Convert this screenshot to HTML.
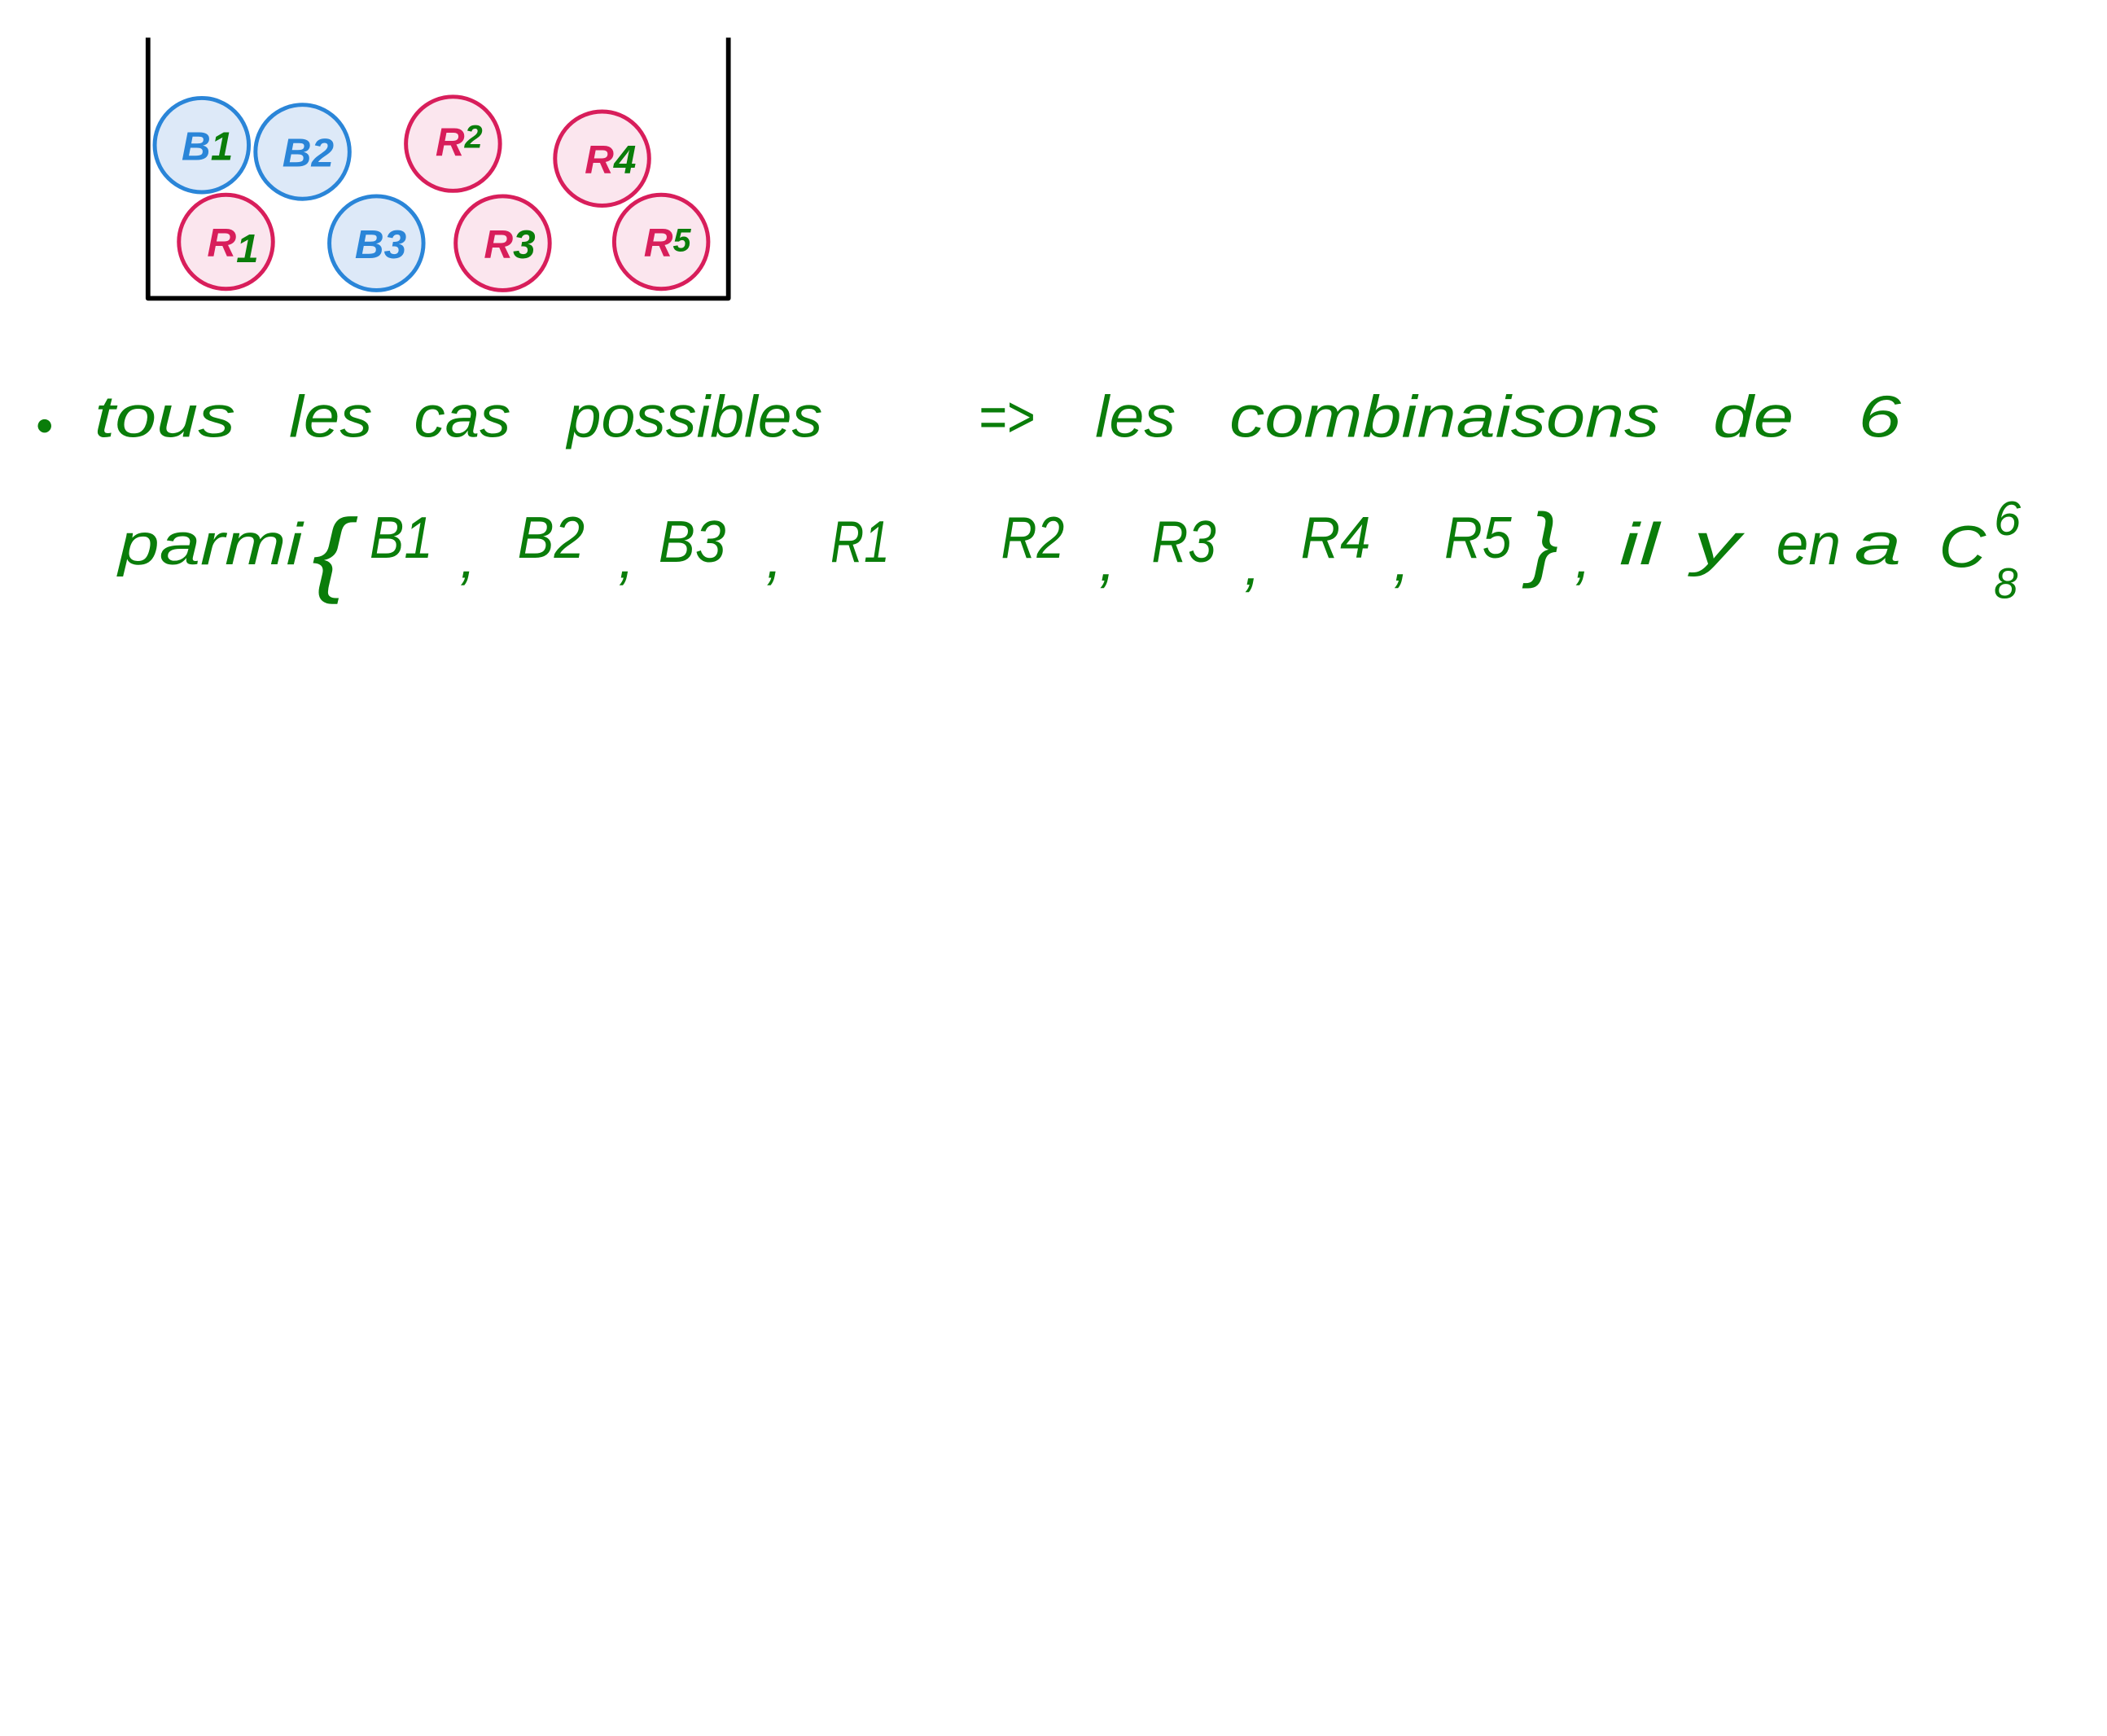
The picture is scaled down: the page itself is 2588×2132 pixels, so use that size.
<!DOCTYPE html>
<html><head><meta charset="utf-8"><style>
html,body{margin:0;padding:0;background:#fff;}
svg{display:block;}
text{font-family:"Liberation Sans",sans-serif;font-style:italic;}
</style></head><body>
<svg width="2588" height="2132" viewBox="0 0 1568 1292" xmlns="http://www.w3.org/2000/svg">
<rect width="1568" height="1292" fill="#fff"/>
<path d="M110 28 L110 222 L542 222 L542 28" fill="none" stroke="#000" stroke-width="3.5" stroke-linejoin="round"/>
<g stroke-width="3">
<circle cx="150" cy="108" r="35" fill="#dde9f8" stroke="#2a85d8"/>
<circle cx="225" cy="113" r="35" fill="#dde9f8" stroke="#2a85d8"/>
<circle cx="337" cy="107" r="35" fill="#fbe6ee" stroke="#d81e5b"/>
<circle cx="448" cy="118" r="35" fill="#fbe6ee" stroke="#d81e5b"/>
<circle cx="168" cy="180" r="35" fill="#fbe6ee" stroke="#d81e5b"/>
<circle cx="280" cy="181" r="35" fill="#dde9f8" stroke="#2a85d8"/>
<circle cx="374" cy="181" r="35" fill="#fbe6ee" stroke="#d81e5b"/>
<circle cx="492" cy="180" r="35" fill="#fbe6ee" stroke="#d81e5b"/>
</g>
<g font-size="30" font-weight="bold">
<text x="135" y="119" fill="#2a85d8">B<tspan fill="#0a7d0a">1</tspan></text>
<text x="210" y="124" fill="#2a85d8">B<tspan>2</tspan></text>
<text x="324" y="116" fill="#d81e5b">R<tspan fill="#0a7d0a" font-size="24" dy="-6">2</tspan></text>
<text x="435" y="129" fill="#d81e5b">R<tspan fill="#0a7d0a">4</tspan></text>
<text x="154" y="191" fill="#d81e5b">R<tspan fill="#0a7d0a" dy="4">1</tspan></text>
<text x="264" y="192" fill="#2a85d8">B<tspan>3</tspan></text>
<text x="360" y="192" fill="#d81e5b">R<tspan fill="#0a7d0a">3</tspan></text>
<text x="479" y="191" fill="#d81e5b">R<tspan fill="#0a7d0a" font-size="24" dy="-4">5</tspan></text>
</g>
<g fill="#0a7d0a" font-size="44">
<circle cx="33" cy="317" r="5"/>
<text x="70" y="325" textLength="105" lengthAdjust="spacingAndGlyphs">tous</text>
<text x="215" y="325" textLength="62" lengthAdjust="spacingAndGlyphs">les</text>
<text x="308" y="325" textLength="72" lengthAdjust="spacingAndGlyphs">cas</text>
<text x="422" y="325" textLength="190" lengthAdjust="spacingAndGlyphs">possibles</text>
<text x="728" y="325" textLength="42" lengthAdjust="spacingAndGlyphs">=&gt;</text>
<text x="815" y="325" textLength="60" lengthAdjust="spacingAndGlyphs">les</text>
<text x="915" y="325" textLength="320" lengthAdjust="spacingAndGlyphs">combinaisons</text>
<text x="1275" y="325" textLength="60" lengthAdjust="spacingAndGlyphs">de</text>
<text x="1383" y="325" textLength="32" lengthAdjust="spacingAndGlyphs">6</text>

<text x="88" y="420" textLength="137" lengthAdjust="spacingAndGlyphs">parmi</text>
<text x="232" y="435" font-size="70" textLength="28" lengthAdjust="spacingAndGlyphs">{</text>
<text x="275" y="415" textLength="47" lengthAdjust="spacingAndGlyphs">B1</text>
<text x="342" y="430">,</text>
<text x="385" y="415" textLength="50" lengthAdjust="spacingAndGlyphs">B2</text>
<text x="460" y="430">,</text>
<text x="490" y="418" textLength="50" lengthAdjust="spacingAndGlyphs">B3</text>
<text x="570" y="430">,</text>
<text x="618" y="418" textLength="44" lengthAdjust="spacingAndGlyphs">R1</text>
<text x="745" y="415" textLength="47" lengthAdjust="spacingAndGlyphs">R2</text>
<text x="818" y="432">,</text>
<text x="857" y="418" textLength="48" lengthAdjust="spacingAndGlyphs">R3</text>
<text x="926" y="435">,</text>
<text x="968" y="415" textLength="52" lengthAdjust="spacingAndGlyphs">R4</text>
<text x="1037" y="432">,</text>
<text x="1075" y="415" textLength="50" lengthAdjust="spacingAndGlyphs">R5</text>
<text x="1138" y="425" font-size="62" textLength="22" lengthAdjust="spacingAndGlyphs">}</text>
<text x="1172" y="430">,</text>
<text x="1205" y="420" textLength="30" lengthAdjust="spacingAndGlyphs">il</text>
<text x="1260" y="420" textLength="35" lengthAdjust="spacingAndGlyphs">y</text>
<text x="1322" y="420" textLength="48" lengthAdjust="spacingAndGlyphs">en</text>
<text x="1380" y="420" textLength="35" lengthAdjust="spacingAndGlyphs">a</text>
<text x="1443" y="422" textLength="35" lengthAdjust="spacingAndGlyphs">C</text>
<text x="1484" y="398" font-size="36">6</text>
<text x="1484" y="445" font-size="32">8</text>
</g>
</svg>
</body></html>
